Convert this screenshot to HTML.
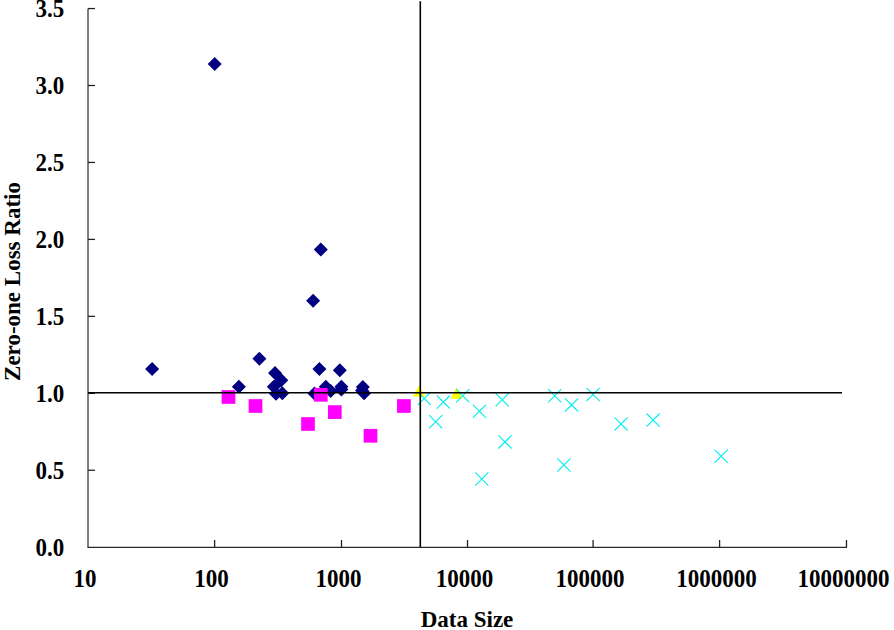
<!DOCTYPE html>
<html><head><meta charset="utf-8"><style>
html,body{margin:0;padding:0;background:#fff;}
body{width:894px;height:630px;overflow:hidden;position:relative;}
svg{position:absolute;left:0;top:0;}
text{font-family:"Liberation Serif",serif;font-weight:bold;font-size:23px;fill:#000;}
</style></head><body>
<svg width="894" height="630" viewBox="0 0 894 630">
<line x1="88" y1="8.6" x2="88" y2="547.5" stroke="#000" stroke-width="1"/>
<line x1="87.6" y1="547.3" x2="847" y2="547.3" stroke="#2a2a2a" stroke-width="1.3"/>
<line x1="88" y1="470.25" x2="95" y2="470.25" stroke="#222" stroke-width="1.3"/>
<line x1="88" y1="393.30" x2="95" y2="393.30" stroke="#222" stroke-width="1.3"/>
<line x1="88" y1="316.35" x2="95" y2="316.35" stroke="#222" stroke-width="1.3"/>
<line x1="88" y1="239.40" x2="95" y2="239.40" stroke="#222" stroke-width="1.3"/>
<line x1="88" y1="162.45" x2="95" y2="162.45" stroke="#222" stroke-width="1.3"/>
<line x1="88" y1="85.50" x2="95" y2="85.50" stroke="#222" stroke-width="1.3"/>
<line x1="88" y1="8.55" x2="95" y2="8.55" stroke="#222" stroke-width="1.3"/>
<line x1="214.60" y1="540" x2="214.60" y2="547.5" stroke="#222" stroke-width="1.3"/>
<line x1="341.50" y1="540" x2="341.50" y2="547.5" stroke="#222" stroke-width="1.3"/>
<line x1="467.50" y1="540" x2="467.50" y2="547.5" stroke="#222" stroke-width="1.3"/>
<line x1="593.10" y1="540" x2="593.10" y2="547.5" stroke="#222" stroke-width="1.3"/>
<line x1="719.60" y1="540" x2="719.60" y2="547.5" stroke="#222" stroke-width="1.3"/>
<line x1="846.50" y1="540" x2="846.50" y2="547.5" stroke="#222" stroke-width="1.3"/>
<path d="M152.10 362.00L159.10 369.00L152.10 376.00L145.10 369.00ZM214.70 57.00L221.70 64.00L214.70 71.00L207.70 64.00ZM238.90 379.70L245.90 386.70L238.90 393.70L231.90 386.70ZM259.40 351.70L266.40 358.70L259.40 365.70L252.40 358.70ZM275.00 365.90L282.00 372.90L275.00 379.90L268.00 372.90ZM281.30 373.30L288.30 380.30L281.30 387.30L274.30 380.30ZM273.80 379.70L280.80 386.70L273.80 393.70L266.80 386.70ZM276.00 386.70L283.00 393.70L276.00 400.70L269.00 393.70ZM282.30 386.30L289.30 393.30L282.30 400.30L275.30 393.30ZM313.10 293.80L320.10 300.80L313.10 307.80L306.10 300.80ZM320.80 242.60L327.80 249.60L320.80 256.60L313.80 249.60ZM319.40 361.90L326.40 368.90L319.40 375.90L312.40 368.90ZM339.80 363.20L346.80 370.20L339.80 377.20L332.80 370.20ZM314.50 386.50L321.50 393.50L314.50 400.50L307.50 393.50ZM325.80 379.80L332.80 386.80L325.80 393.80L318.80 386.80ZM330.70 383.90L337.70 390.90L330.70 397.90L323.70 390.90ZM341.40 379.80L348.40 386.80L341.40 393.80L334.40 386.80ZM341.40 382.50L348.40 389.50L341.40 396.50L334.40 389.50ZM362.80 380.00L369.80 387.00L362.80 394.00L355.80 387.00ZM362.00 383.60L369.00 390.60L362.00 397.60L355.00 390.60ZM364.10 386.20L371.10 393.20L364.10 400.20L357.10 393.20Z" fill="#000080"/>
<rect x="221.65" y="390.15" width="13.70" height="13.70" fill="#FF00FF"/>
<rect x="248.65" y="399.15" width="13.70" height="13.70" fill="#FF00FF"/>
<rect x="313.95" y="387.95" width="13.70" height="13.70" fill="#FF00FF"/>
<rect x="301.15" y="417.15" width="13.70" height="13.70" fill="#FF00FF"/>
<rect x="327.95" y="405.25" width="13.70" height="13.70" fill="#FF00FF"/>
<rect x="363.65" y="428.95" width="13.70" height="13.70" fill="#FF00FF"/>
<rect x="397.05" y="399.15" width="13.70" height="13.70" fill="#FF00FF"/>
<path d="M419.10 385.20L425.00 396.50L413.20 396.50Z" fill="#FFFF00"/>
<path d="M456.50 387.50L462.40 398.80L450.60 398.80Z" fill="#FFFF00"/>
<path d="M417.70 391.90L430.90 405.10M430.90 391.90L417.70 405.10" stroke="#00EEEE" stroke-width="1.15" fill="none"/>
<path d="M436.80 395.50L450.00 408.70M450.00 395.50L436.80 408.70" stroke="#00EEEE" stroke-width="1.15" fill="none"/>
<path d="M429.10 415.10L442.30 428.30M442.30 415.10L429.10 428.30" stroke="#00EEEE" stroke-width="1.15" fill="none"/>
<path d="M456.10 389.10L469.30 402.30M469.30 389.10L456.10 402.30" stroke="#00EEEE" stroke-width="1.15" fill="none"/>
<path d="M472.80 404.70L486.00 417.90M486.00 404.70L472.80 417.90" stroke="#00EEEE" stroke-width="1.15" fill="none"/>
<path d="M475.20 472.40L488.40 485.60M488.40 472.40L475.20 485.60" stroke="#00EEEE" stroke-width="1.15" fill="none"/>
<path d="M495.60 393.10L508.80 406.30M508.80 393.10L495.60 406.30" stroke="#00EEEE" stroke-width="1.15" fill="none"/>
<path d="M498.40 435.30L511.60 448.50M511.60 435.30L498.40 448.50" stroke="#00EEEE" stroke-width="1.15" fill="none"/>
<path d="M548.10 389.10L561.30 402.30M561.30 389.10L548.10 402.30" stroke="#00EEEE" stroke-width="1.15" fill="none"/>
<path d="M565.00 398.30L578.20 411.50M578.20 398.30L565.00 411.50" stroke="#00EEEE" stroke-width="1.15" fill="none"/>
<path d="M586.50 387.90L599.70 401.10M599.70 387.90L586.50 401.10" stroke="#00EEEE" stroke-width="1.15" fill="none"/>
<path d="M557.30 458.40L570.50 471.60M570.50 458.40L557.30 471.60" stroke="#00EEEE" stroke-width="1.15" fill="none"/>
<path d="M614.50 417.30L627.70 430.50M627.70 417.30L614.50 430.50" stroke="#00EEEE" stroke-width="1.15" fill="none"/>
<path d="M646.50 413.50L659.70 426.70M659.70 413.50L646.50 426.70" stroke="#00EEEE" stroke-width="1.15" fill="none"/>
<path d="M714.50 449.60L727.70 462.80M727.70 449.60L714.50 462.80" stroke="#00EEEE" stroke-width="1.15" fill="none"/>
<line x1="88" y1="392.7" x2="842" y2="392.7" stroke="#000" stroke-width="1.5"/>
<line x1="420.3" y1="1.2" x2="420.3" y2="547" stroke="#000" stroke-width="1.6"/>
<text transform="translate(64.3 555.90) scale(1 1.055)" text-anchor="end">0.0</text>
<text transform="translate(64.3 478.95) scale(1 1.055)" text-anchor="end">0.5</text>
<text transform="translate(64.3 402.00) scale(1 1.055)" text-anchor="end">1.0</text>
<text transform="translate(64.3 325.05) scale(1 1.055)" text-anchor="end">1.5</text>
<text transform="translate(64.3 248.10) scale(1 1.055)" text-anchor="end">2.0</text>
<text transform="translate(64.3 171.15) scale(1 1.055)" text-anchor="end">2.5</text>
<text transform="translate(64.3 94.20) scale(1 1.055)" text-anchor="end">3.0</text>
<text transform="translate(64.3 17.25) scale(1 1.055)" text-anchor="end">3.5</text>
<text transform="translate(84.90 587) scale(1 1.06)" text-anchor="middle">10</text>
<text transform="translate(211.50 587) scale(1 1.06)" text-anchor="middle">100</text>
<text transform="translate(338.40 587) scale(1 1.06)" text-anchor="middle">1000</text>
<text transform="translate(464.40 587) scale(1 1.06)" text-anchor="middle">10000</text>
<text transform="translate(590.00 587) scale(1 1.06)" text-anchor="middle">100000</text>
<text transform="translate(716.50 587) scale(1 1.06)" text-anchor="middle">1000000</text>
<text transform="translate(843.40 587) scale(1 1.06)" text-anchor="middle">10000000</text>
<text x="467" y="627" text-anchor="middle">Data Size</text>
<text transform="translate(19.5 281.5) rotate(-90)" text-anchor="middle">Zero-one Loss Ratio</text>
</svg>
</body></html>
